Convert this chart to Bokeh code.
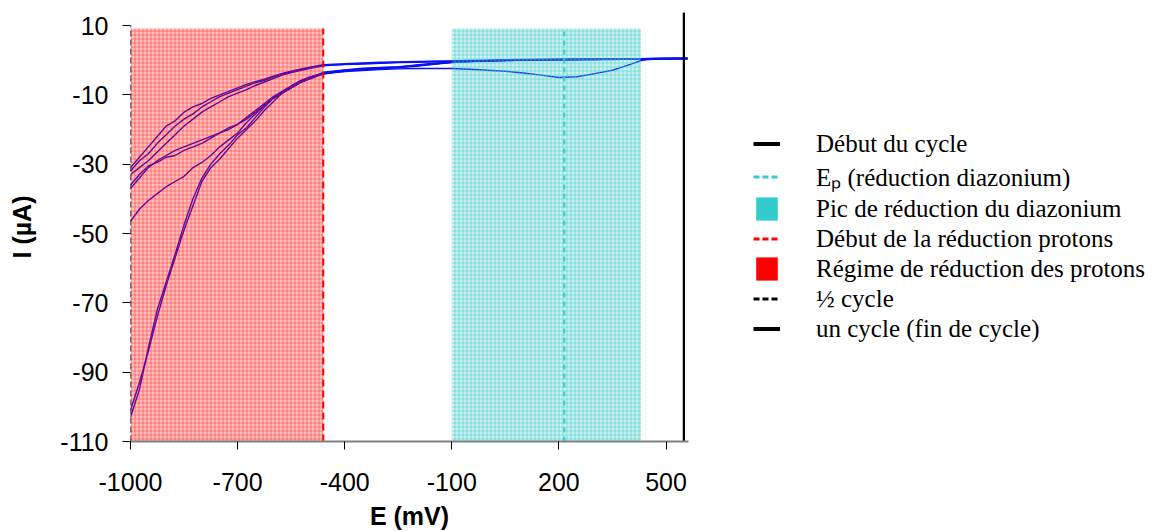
from bokeh.plotting import figure
from bokeh.models import Range1d, FixedTicker, Legend, LegendItem
from bokeh.embed import file_html
from bokeh.resources import INLINE

# ---------------- data ----------------
# potential grid (mV) in the proton-reduction region
E_RED = [-1000, -975, -950, -925, -900, -875, -850, -825, -800, -775, -750, -725,
         -700, -675, -650, -625, -600, -575, -550, -525, -500, -475, -460]
# potential grid (mV) for the rest of the sweep
E_REST = [-400, -350, -300, -250, -200, -150, -100, -50, 0, 50, 100, 150, 200,
          250, 300, 350, 400, 430, 450, 500, 560]

# current (uA) of each sweep, red region part
I1_RED = [-103, -95, -83, -72, -64, -56, -47.5, -40, -34, -30, -27, -24.5, -21.5, -19.5,
          -16.5, -13.5, -11, -9, -7.5, -6, -5, -4.2, -3.8]
I2_RED = [-101, -93, -84, -74, -65, -57, -49, -42, -35, -31, -28.5, -25.5, -22.5, -20,
          -17.5, -14.5, -12, -9.5, -8, -6.5, -5.3, -4.4, -3.9]
I3_RED = [-46.5, -43, -40.5, -38.5, -36.5, -35, -33.5, -31, -29.5, -27.5, -25, -23, -21,
          -18, -15.5, -13, -11, -9.5, -8, -6.5, -5.5, -4.5, -4]
I4_RED = [-37, -34, -31, -29, -27.5, -26, -25, -24, -23, -22, -21, -19.5, -18.5, -16.5,
          -14.5, -12.5, -10.5, -9, -7.5, -6, -5, -4.2, -3.6]
I5_RED = [-36, -33, -30.5, -29.5, -28, -27.5, -26, -25, -24, -22.5, -21, -20, -18.5, -17,
          -15, -13, -11, -9.5, -8, -6.5, -5.2, -4.3, -3.5]
I6_RED = [-31, -28, -25, -22, -19, -17.5, -15, -13.5, -12.5, -11, -10, -9, -8, -7, -6.2,
          -5.5, -4.6, -3.8, -3.2, -2.6, -2.1, -1.6, -1.3]
I7_RED = [-32, -29, -27, -24, -21.5, -19, -17, -15.5, -13.5, -12, -10.5, -9.5, -8.5, -7.5,
          -6.5, -5.8, -4.9, -4, -3.4, -2.8, -2.2, -1.8, -1.5]
I8_RED = [-33, -31, -29, -26.5, -24, -21.5, -19, -17, -15, -13.5, -12, -10.5, -9.5, -8.5,
          -7.3, -6.3, -5.3, -4.3, -3.6, -3, -2.4, -1.9, -1.6]

# current (uA) of each sweep, rest of the potential window
I1_REST = [-3.3, -3.0, -2.7, -2.5, -2.4, -2.4, -2.4, -2.6, -2.9, -3.2, -3.7, -4.3, -5.0,
           -4.8, -3.9, -2.9, -1.2, -0.1, 0.2, 0.4, 0.5]
I2_REST = [-3.0, -2.6, -2.3, -2.0, -1.5, -1.0, -0.6, -0.4, -0.2, 0.0, 0.1, 0.1, 0.2, 0.2,
           0.2, 0.3, 0.3, 0.3, 0.4, 0.5, 0.5]
I3_REST = [-3.2, -2.7, -2.4, -2.2, -1.8, -1.2, -0.7, -0.4, -0.3, -0.1, 0.0, 0.1, 0.1, 0.2,
           0.2, 0.3, 0.3, 0.3, 0.4, 0.4, 0.5]
I4_REST = [-2.9, -2.5, -2.2, -2.0, -1.4, -0.9, -0.5, -0.3, -0.2, 0.0, 0.0, 0.1, 0.2, 0.2,
           0.3, 0.3, 0.3, 0.4, 0.4, 0.5, 0.5]
I5_REST = [-2.8, -2.3, -2.1, -1.9, -1.6, -1.1, -0.6, -0.4, -0.2, -0.1, 0.0, 0.1, 0.1, 0.2,
           0.2, 0.2, 0.3, 0.3, 0.4, 0.4, 0.5]
I6_REST = [-1.0, -0.8, -0.6, -0.5, -0.4, -0.3, -0.2, -0.1, 0.0, 0.1, 0.2, 0.2, 0.3, 0.3,
           0.3, 0.4, 0.4, 0.4, 0.5, 0.5, 0.5]
I7_REST = [-1.2, -1.0, -0.8, -0.6, -0.5, -0.4, -0.3, -0.2, -0.1, 0.0, 0.1, 0.2, 0.2, 0.3,
           0.3, 0.3, 0.4, 0.4, 0.4, 0.5, 0.5]
I8_REST = [-1.3, -1.1, -0.9, -0.7, -0.6, -0.5, -0.4, -0.3, -0.2, -0.1, 0.0, 0.1, 0.2, 0.2,
           0.3, 0.3, 0.3, 0.4, 0.4, 0.5, 0.5]

# marker positions (mV)
E_START = 550          # Début du cycle
E_PEAK = 215           # Ep (réduction diazonium)
PEAK_REGION = [-100, 430]
E_PROTON = -460        # Début de la réduction protons
PROTON_REGION = [-1000, -460]
E_HALF = -1000         # ½ cycle
E_END = 550            # un cycle (fin de cycle)

Y_TICKS = [10, -10, -30, -50, -70, -90, -110]
X_TICKS = [-1000, -700, -400, -100, 200, 500]
Y_MIN, Y_MAX, Y_TOP = -110, 10, 13.75
REGION_TOP = 9.1

LEGEND_LABELS = ["Début du cycle", "E\u209a (réduction diazonium)",
                 "Pic de réduction du diazonium", "Début de la réduction protons",
                 "Régime de réduction des protons", "½ cycle", "un cycle (fin de cycle)"]

NAN = [float("nan")]

# ---------------- figure ----------------
p = figure(frame_width=558, frame_height=429, x_range=Range1d(-1000, 563),
           y_range=Range1d(Y_MIN, Y_TOP), output_backend="svg",
           toolbar_location=None, min_border_left=130, min_border_right=80,
           min_border_top=12, min_border_bottom=90)
p.outline_line_color = None
p.grid.visible = False
p.background_fill_color = "white"

LINE_COLOR = "#0a10f0"
series = [(I1_RED, I1_REST), (I2_RED, I2_REST), (I3_RED, I3_REST), (I4_RED, I4_REST),
          (I5_RED, I5_REST), (I6_RED, I6_REST), (I7_RED, I7_REST), (I8_RED, I8_REST)]
for red, rest in series:
    p.line(E_RED + E_REST, red + rest, line_color=LINE_COLOR, line_width=1.4)

# shaded regions drawn over the curves
p.quad(left=[PROTON_REGION[0]], right=[PROTON_REGION[1]], bottom=[Y_MIN], top=[REGION_TOP],
       fill_color="#FF0000", fill_alpha=0.25, line_color=None,
       hatch_pattern="+", hatch_color="#FF0000", hatch_alpha=0.35, hatch_scale=4,
       hatch_weight=1)
p.quad(left=[PEAK_REGION[0]], right=[PEAK_REGION[1]], bottom=[Y_MIN], top=[REGION_TOP],
       fill_color="#33CCCC", fill_alpha=0.25, line_color=None,
       hatch_pattern="+", hatch_color="#33CCCC", hatch_alpha=0.5, hatch_scale=4,
       hatch_weight=1)

# vertical markers
p.line([E_PEAK, E_PEAK], [Y_MIN, REGION_TOP], line_color="#33CCCC", line_width=2,
       line_dash="5 4")
p.line([E_PROTON, E_PROTON], [Y_MIN, REGION_TOP], line_color="#FF0000", line_width=2,
       line_dash="7 4")
p.line([E_HALF, E_HALF], [Y_MIN, Y_MAX], line_color="black", line_width=1.5,
       line_dash="6 3")
p.line([E_START, E_START], [Y_MIN, Y_TOP], line_color="black", line_width=2)
p.line([E_END, E_END], [Y_MIN, Y_TOP], line_color="black", line_width=2)

# legend-only renderers (no visible data)
lg = []
lg.append(p.line(NAN, NAN, line_color="black", line_width=4))
lg.append(p.line(NAN, NAN, line_color="#33CCCC", line_width=3, line_dash="6 3"))
lg.append(p.quad(left=NAN, right=NAN, bottom=NAN, top=NAN, fill_color="#33CCCC",
                 line_color=None))
lg.append(p.line(NAN, NAN, line_color="#FF0000", line_width=3, line_dash="6 3"))
lg.append(p.quad(left=NAN, right=NAN, bottom=NAN, top=NAN, fill_color="#FF0000",
                 line_color=None))
lg.append(p.line(NAN, NAN, line_color="black", line_width=3, line_dash="6 3"))
lg.append(p.line(NAN, NAN, line_color="black", line_width=4))

legend = Legend(items=[LegendItem(label=l, renderers=[r]) for l, r in zip(LEGEND_LABELS, lg)],
                location=(65, 98), padding=0, spacing=1, margin=0,
                glyph_width=27, glyph_height=29, label_height=29, label_standoff=36,
                label_text_font="Liberation Serif", label_text_font_size="25px",
                label_text_color="black", border_line_color=None,
                background_fill_alpha=0)
p.add_layout(legend, "right")

# axes
TICK_FONT = "Liberation Sans"
p.xaxis.ticker = FixedTicker(ticks=X_TICKS)
p.yaxis.ticker = FixedTicker(ticks=Y_TICKS)
p.xaxis.major_label_overrides = {t: str(t) for t in X_TICKS}
p.yaxis.major_label_overrides = {t: str(t) for t in Y_TICKS}
p.yaxis.bounds = (Y_MIN, Y_MAX)
for ax in (p.xaxis, p.yaxis):
    ax.major_label_text_font = TICK_FONT
    ax.major_label_text_font_size = "25px"
    ax.major_label_text_color = "black"
    ax.minor_tick_line_color = None
    ax.major_tick_in = 0
    ax.major_tick_out = 8
    ax.major_tick_line_color = "black"
    ax.axis_label_text_font = TICK_FONT
    ax.axis_label_text_font_size = "25px"
    ax.axis_label_text_font_style = "bold"
    ax.axis_label_text_color = "black"
p.xaxis.axis_line_color = "#808080"
p.xaxis.axis_line_width = 2
p.yaxis.axis_line_color = None
p.xaxis.major_label_standoff = 23
p.yaxis.major_label_standoff = 14
p.xaxis.axis_label = "E (mV)"
p.yaxis.axis_label = "I (µA)"
p.xaxis.axis_label_standoff = 8
p.yaxis.axis_label_standoff = 21

open("out.html", "w").write(file_html(p, INLINE))
